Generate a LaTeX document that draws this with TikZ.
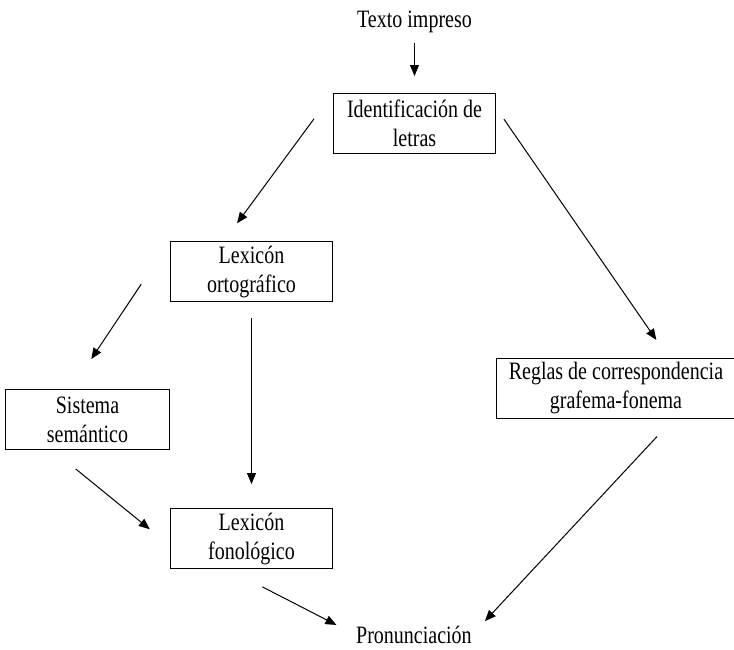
\documentclass[tikz,border=0pt]{standalone}
\usepackage{fontspec}
\setmainfont{Liberation Serif}[FakeStretch=0.8]
\usetikzlibrary{arrows.meta,positioning}

\begin{document}
\begin{tikzpicture}[x=1pt, y=1pt,
      box/.style={draw, line width=1pt, align=center, inner sep=0pt,
                  font={\fontsize{25}{29}\selectfont}, minimum width=162pt, minimum height=60pt},
      lbl/.style={inner sep=0pt, font={\fontsize{25}{29}\selectfont}},
      ar/.style={-{Triangle[length=11pt,width=9pt]}, line width=1pt}
    ]
    \useasboundingbox (0,0) rectangle (734,-649);
    \node[box] (ident) at (414.5,-123.5) {Identificación de\\letras};
    \node[lbl, above=60pt of ident] (texto) {Texto impreso};
    \node[box, below left=87pt and 0pt of ident] (lexo) {Lexicón\\ortográfico};
    \node[box, minimum width=164pt, below left=87pt and 0pt of lexo] (sist) {Sistema\\semántico};
    \node[box, below=206pt of lexo] (lexf) {Lexicón\\fonológico};
    \node[box, minimum width=239pt, below right=204pt and 0pt of ident] (reglas) {Reglas de correspondencia\\grafema-fonema};
    \node[lbl, below right=57pt and 23pt of lexf] (pron) {Pronunciación};
    \draw[ar, shorten <=10pt, shorten >=17pt] (texto) -- (ident);
    \draw[ar, shorten <=32pt, shorten >=22pt] (ident.north west) -- (lexo.132);
    \draw[ar, shorten <=14pt, shorten >=22pt] (ident.11) -- (reglas.30);
    \draw[ar, shorten <=52pt, shorten >=36pt] (lexo.north west) -- (sist.118);
    \draw[ar, shorten <=16pt, shorten >=24pt] (lexo) -- (lexf);
    \draw[ar, shorten <=30pt, shorten >=26pt] (sist.221) -- (lexf.185);
    \draw[ar, shorten <=39pt, shorten >=22pt] (lexf.232) -- (pron.west);
    \draw[ar, shorten <=24pt, shorten >=19pt] (reglas.332) -- (pron.east);
  \end{tikzpicture}
\end{document}
